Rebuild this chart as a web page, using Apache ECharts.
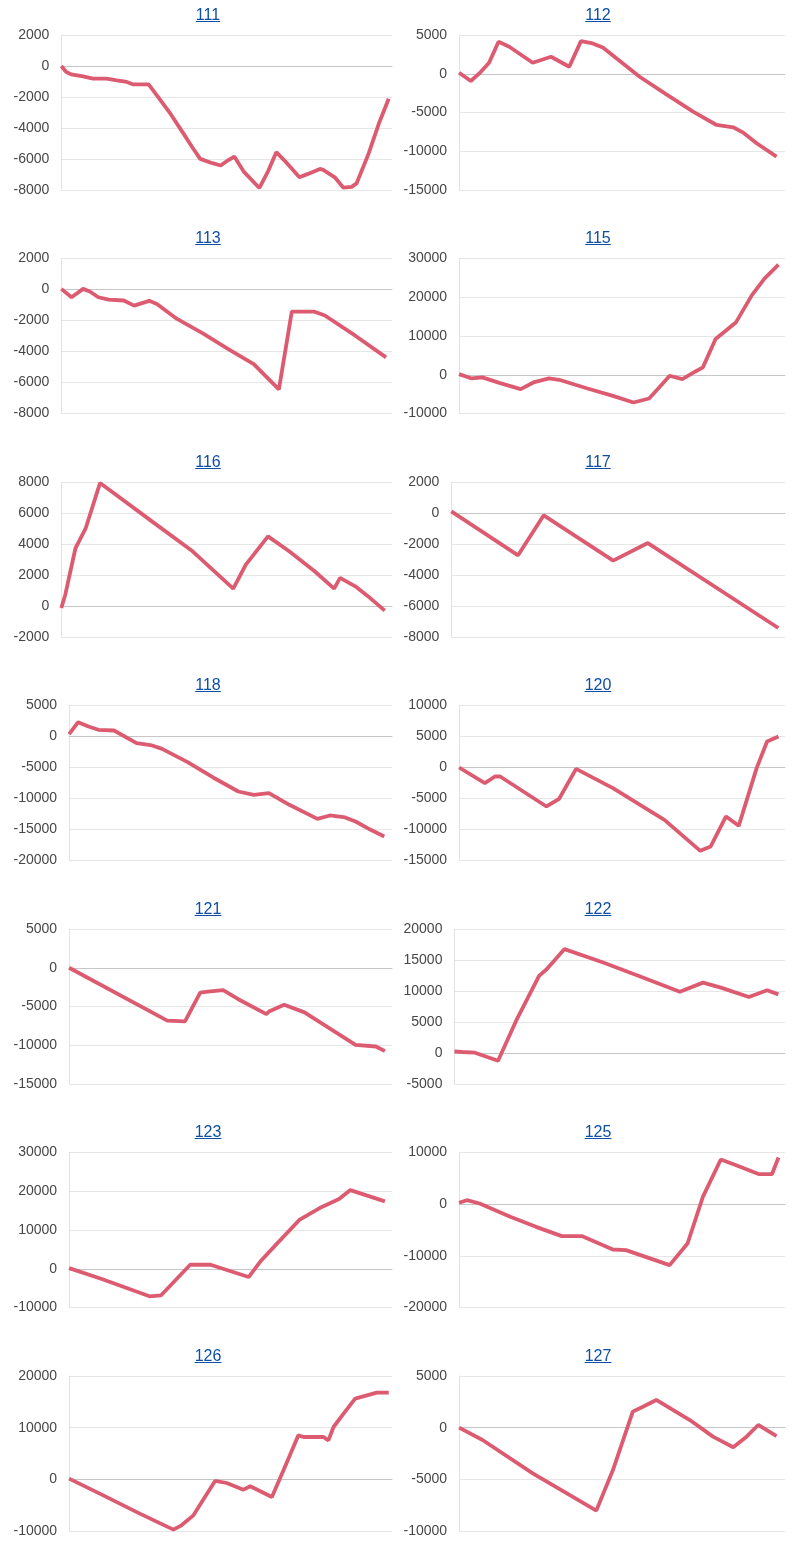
<!DOCTYPE html>
<html>
<head>
<meta charset="utf-8">
<script src="https://cdn.jsdelivr.net/npm/echarts@6/dist/echarts.min.js"></script>
<style>
  html, body { margin: 0; padding: 0; background: #fff; }
  #wrap { position: relative; width: 800px; height: 1545px; }
  #chart { position: absolute; left: 0; top: 0; width: 800px; height: 1545px; }
  .ttl { position: absolute; width: 120px; text-align: center; font: 16px "Liberation Sans", Arial, sans-serif; line-height: 18px; }
  .ttl a { color: #0f4ea5; text-decoration: underline; }
</style>
</head>
<body>
<div id="wrap"><div id="chart"></div></div>
<script>
const titles = ['111', '112', '113', '115', '116', '117', '118', '120', '121', '122', '123', '125', '126', '127'];
const yMin = [-8000, -15000, -8000, -10000, -2000, -8000, -20000, -15000, -15000, -5000, -10000, -20000, -10000, -10000];
const yMax = [2000, 5000, 2000, 30000, 8000, 2000, 5000, 10000, 5000, 20000, 30000, 10000, 20000, 5000];
const yStep = [2000, 5000, 2000, 10000, 2000, 2000, 5000, 5000, 5000, 5000, 10000, 10000, 10000, 5000];

// [step, value] pairs
const s111 = [[0, 0], [1.5, -390], [3, -540], [6.6, -670], [9.6, -820], [13.7, -820], [16.8, -930], [19.8, -1030], [21.8, -1190], [26.4, -1190], [28.9, -1900], [33, -3080], [37, -4380], [39.6, -5240], [42, -5990], [45.7, -6270], [48.2, -6420], [50.3, -6100], [52.3, -5840], [55.3, -6850], [59.9, -7870], [62.4, -6850], [65, -5560], [67.5, -6100], [72, -7180], [74.6, -6960], [78.2, -6640], [79.2, -6700], [82.7, -7180], [85.3, -7850], [87.8, -7800], [89.3, -7570], [92.9, -5670], [96, -3730], [99, -2110]];
const s112 = [[0, 130], [3.6, -940], [6.2, 40], [9.2, 1420], [12.1, 4120], [15.4, 3480], [22.6, 1420], [28.2, 2190], [33.8, 900], [37.4, 4210], [41, 3910], [44.1, 3390], [55.4, -390], [63.6, -2660], [71.8, -4890], [79, -6610], [84.1, -6910], [87.2, -7600], [91.3, -8970], [97.4, -10690]];
const s113 = [[0, 40], [1.2, -170], [3.1, -500], [6.6, 40], [8.6, -130], [11.2, -500], [14.3, -650], [18.9, -710], [22, -1040], [26.6, -730], [28.9, -930], [35, -1900], [42.8, -2830], [50.5, -3840], [58.2, -4820], [65.8, -6440], [69.7, -1430], [76.6, -1430], [79.7, -1680], [88.9, -2980], [98.2, -4380]];
const s115 = [[0, 170], [3.9, -950], [7.1, -690], [12.6, -2160], [18.9, -3720], [22.8, -1990], [27.6, -950], [30.7, -1300], [39.4, -3540], [47.2, -5440], [53.5, -7170], [58.3, -6130], [61.4, -3280], [64.6, -260], [68.5, -1120], [72.4, 780], [74.8, 1900], [78.7, 9240], [81.9, 11400], [85, 13570], [89.8, 20480], [93.7, 24800], [98, 28430]];
const s116 = [[0, -130], [1.2, 730], [4.3, 3740], [7.4, 5030], [11.7, 7930], [15.1, 7400], [27.4, 5460], [39.7, 3530], [52, 1120], [55.8, 2670], [62.5, 4490], [68.9, 3530], [76.6, 2240], [82.5, 1120], [84.3, 1810], [88.9, 1270], [92.8, 620], [97.8, -300]];
const s117 = [[0, 110], [20, -2730], [27.7, -150], [48.5, -3070], [58.9, -1940], [98, -7420]];
const s118 = [[0, 380], [2.8, 2310], [6, 1610], [9.1, 1080], [13.9, 970], [20.9, -1080], [25.7, -1450], [28.8, -1990], [36.7, -4140], [44.6, -6610], [52.4, -8870], [57.2, -9410], [61.9, -9140], [68.2, -11020], [76.9, -13280], [80.8, -12740], [85.5, -13060], [88.7, -13710], [93.4, -15050], [97.6, -16130]];
const s120 = [[0, 0], [7.9, -2530], [11, -1450], [12.6, -1450], [26.8, -6290], [30.7, -5050], [35.9, -220], [47.2, -3330], [63, -8440], [74, -13440], [77.2, -12740], [81.9, -7900], [85.8, -9410], [91.3, -110], [94.5, 4190], [98, 5000]];
const s121 = [[0, 0], [30.4, -6830], [35.9, -6920], [40.6, -3200], [43, -3070], [47.7, -2900], [52.4, -4060], [61.1, -5980], [61.9, -5640], [66.6, -4780], [72.9, -5760], [88.7, -9950], [95, -10160], [97.8, -10760]];
const s122 = [[0, 270], [2.3, 160], [6.2, 50], [13.2, -1240], [18.6, 5130], [25.6, 12430], [27.9, 13510], [33.3, 16760], [45, 14600], [55.8, 12430], [68.2, 9890], [75.2, 11350], [80.6, 10540], [89.1, 9030], [94.6, 10110], [98, 9460]];
const s123 = [[0, 170], [9.9, -2570], [24.9, -7110], [28.5, -6850], [37.5, 1030], [43.8, 1030], [55.6, -2140], [59.5, 2140], [64.3, 6420], [71.3, 12590], [77.6, 15670], [83.6, 17990], [87.1, 20300], [97.8, 17390]];
const s125 = [[0, 260], [2.4, 770], [6.3, 130], [15.7, -2450], [23.6, -4390], [31.5, -6190], [37.8, -6190], [47.2, -8770], [51.2, -8900], [64.6, -11800], [70.1, -7610], [74.8, 1420], [80.3, 8640], [85, 7550], [92.1, 5800], [96, 5800], [98, 9030]];
const s126 = [[0, 130], [9.5, -2770], [21.9, -6640], [32.3, -9740], [34.8, -8900], [38.5, -6970], [45.2, -320], [48.8, -710], [54, -2000], [56.1, -1350], [62.8, -3420], [66.4, 1740], [71, 8510], [72.6, 8190], [78.8, 8190], [80.3, 7550], [81.9, 10130], [85, 12710], [88.6, 15610], [92.2, 16250], [95.3, 16770], [99, 16770]];
const s127 = [[0, 0], [7.2, -1190], [22.6, -4420], [42.1, -8030], [47.2, -4100], [53.3, 1550], [56.4, 2030], [60.5, 2680], [70.8, 740], [77.9, -870], [84.1, -1900], [88.2, -870], [91.8, 260], [97.4, -810]];
const seriesData = [s111, s112, s113, s115, s116, s117, s118, s120, s121, s122, s123, s125, s126, s127];

const FONT = '"Liberation Sans", Arial, sans-serif';
const rowPitch = 223.5;
const measure = document.createElement('canvas').getContext('2d');
measure.font = '14px ' + FONT;

const wrap = document.getElementById('wrap');
const grids = [], xAxes = [], yAxes = [], series = [];

titles.forEach((name, i) => {
    const col = i % 2, row = Math.floor(i / 2);
    const off = row * rowPitch;

    const t = document.createElement('div');
    t.className = 'ttl';
    t.style.left = (col ? 598 : 208) - 60 + 'px';
    t.style.top = 5.5 + off + 'px';
    t.innerHTML = '<a href="#">' + name + '</a>';
    wrap.appendChild(t);

    const lw = Math.max(measure.measureText(String(yMin[i])).width, measure.measureText(String(yMax[i])).width);
    const left = (col ? 403.5 : 13.5) + lw + 12;
    const right = col ? 785 : 392;
    grids.push({ left: left, top: 35 + off, width: right - left, height: 155 });
    xAxes.push({
        type: 'value', gridIndex: i, min: 0, max: 100,
        axisLabel: { show: false }, axisTick: { show: false }, splitLine: { show: false },
        axisLine: { show: true, onZero: true, lineStyle: { color: '#c6c6c6', width: 1 } }
    });
    yAxes.push({
        type: 'value', gridIndex: i, min: yMin[i], max: yMax[i], interval: yStep[i],
        axisLine: { show: true, lineStyle: { color: '#e2e2e2' } },
        axisTick: { show: false },
        axisLabel: { fontSize: 14, fontFamily: FONT, color: '#474747', margin: 12, formatter: v => String(v) },
        splitLine: { lineStyle: { color: '#e6e6e6' } }
    });
    series.push({
        type: 'line', xAxisIndex: i, yAxisIndex: i, data: seriesData[i],
        showSymbol: false, silent: true, animation: false,
        lineStyle: { color: '#dc5b71', width: 3.8 }
    });
});

const chart = echarts.init(document.getElementById('chart'));
chart.setOption({
    animation: false,
    grid: grids,
    xAxis: xAxes,
    yAxis: yAxes,
    series: series
});
</script>
</body>
</html>
